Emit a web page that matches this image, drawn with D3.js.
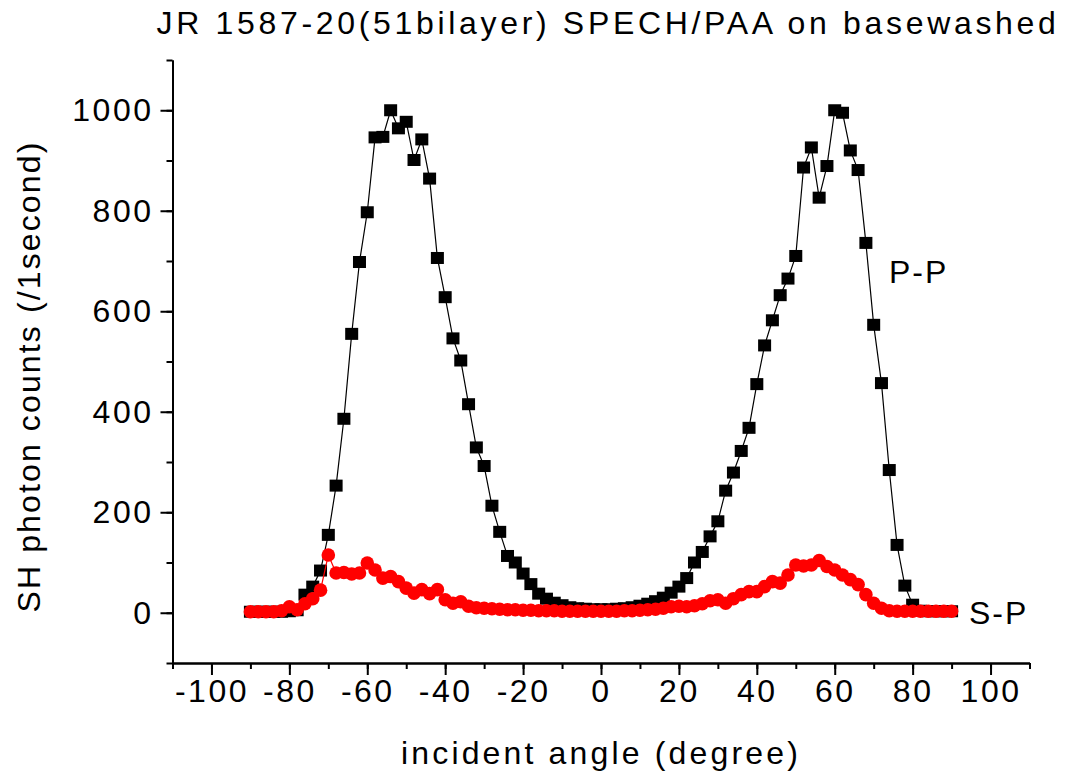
<!DOCTYPE html>
<html>
<head>
<meta charset="utf-8">
<script src="https://cdn.jsdelivr.net/npm/d3@7"></script>
<style>
  body { margin: 0; background: #fff; }
  svg { display: block; }
  text { font-family: "Liberation Sans", Arial, sans-serif; fill: #000; }
</style>
</head>
<body>
<div id="chart"></div>
<script>
// incident angle (degree), one scan every 2 degrees
var angles = [-90, -88, -86, -84, -82, -80, -78, -76, -74, -72,
  -70, -68, -66, -64, -62, -60, -58, -56, -54, -52,
  -50, -48, -46, -44, -42, -40, -38, -36, -34, -32,
  -30, -28, -26, -24, -22, -20, -18, -16, -14, -12,
  -10, -8, -6, -4, -2, 0, 2, 4, 6, 8,
  10, 12, 14, 16, 18, 20, 22, 24, 26, 28,
  30, 32, 34, 36, 38, 40, 42, 44, 46, 48,
  50, 52, 54, 56, 58, 60, 62, 64, 66, 68,
  70, 72, 74, 76, 78, 80, 82, 84, 86, 88, 90];

// P-P counts (black squares)
var ppCounts = [2, 2, 2, 2, 2, 3, 5, 36, 52, 84,
  155, 253, 386, 555, 698, 797, 946, 947, 1000, 964,
  977, 901, 942, 864, 706, 628, 546, 502, 415, 329,
  292, 213, 161, 113, 100, 78, 57, 38, 28, 20,
  15, 11, 9, 8, 7, 7, 7, 8, 9, 11,
  14, 18, 23, 30, 40, 52, 69, 100, 121, 152,
  182, 243, 279, 322, 368, 455, 532, 582, 632, 665,
  710, 886, 926, 826, 889, 1000, 995, 920, 881, 736,
  573, 457, 284, 135, 54, 16, 4, 3, 3, 3, 3];

// S-P counts (red circles)
var spCounts = [2, 2, 2, 2, 4, 12, 6, 18, 28, 45,
  115, 79, 80, 77, 79, 99, 85, 69, 72, 62,
  49, 39, 46, 38, 46, 26, 19, 22, 13, 10,
  9, 8, 7, 6, 6, 5, 5, 4, 4, 4,
  3, 3, 3, 3, 3, 3, 3, 3, 4, 4,
  5, 6, 7, 9, 12, 13, 12, 14, 18, 24,
  26, 19, 28, 36, 42, 42, 52, 62, 59, 75,
  95, 93, 95, 104, 92, 85, 75, 66, 56, 36,
  19, 9, 4, 3, 3, 3, 3, 3, 3, 3, 3];

var xMajor = [-100, -80, -60, -40, -20, 0, 20, 40, 60, 80, 100];
var yMajor = [0, 200, 400, 600, 800, 1000];

var w = 1075, h = 774;

var svg = d3.select("#chart").append("svg")
  .attr("width", w)
  .attr("height", h);

var x = d3.scaleLinear().domain([-110, 110]).range([172.5, 1029.5]);
var y = d3.scaleLinear().domain([-100, 1100]).range([663, 60]);

var ppData = angles.map(function(a, i) { return { a: a, v: ppCounts[i] }; });
var spData = angles.map(function(a, i) { return { a: a, v: spCounts[i] }; });

// plain hyphen for negatives, like the original
var plain = function(d) { return String(d); };

// axes: minor ticks first, then labelled majors
var xMinor = svg.append("g")
  .attr("transform", "translate(0," + y(-100) + ")")
  .call(d3.axisBottom(x).tickValues(d3.range(-110, 111, 10)).tickSize(6).tickSizeOuter(0).tickFormat(""));
var xAxis = svg.append("g")
  .attr("transform", "translate(0," + y(-100) + ")")
  .call(d3.axisBottom(x).tickValues(xMajor).tickSize(12).tickSizeOuter(0).tickPadding(4).tickFormat(plain));

var yMinor = svg.append("g")
  .attr("transform", "translate(" + x(-110) + ",0)")
  .call(d3.axisLeft(y).tickValues(d3.range(-100, 1101, 100)).tickSize(6).tickSizeOuter(0).tickFormat(""));
var yAxis = svg.append("g")
  .attr("transform", "translate(" + x(-110) + ",0)")
  .call(d3.axisLeft(y).tickValues(yMajor).tickSize(12).tickSizeOuter(0).tickPadding(7).tickFormat(plain));

[xMinor, xAxis, yMinor, yAxis].forEach(function(g) {
  g.selectAll(".domain").attr("stroke-width", 2);
  g.selectAll(".tick line").attr("stroke-width", 2);
  g.selectAll("text")
    .style("font-size", "32px")
    .style("letter-spacing", "2.5px")
    .style("font-family", "'Liberation Sans', Arial, sans-serif");
});

// P-P series
var line = d3.line()
  .x(function(d) { return x(d.a); })
  .y(function(d) { return y(d.v); });

svg.append("path")
  .datum(ppData)
  .attr("fill", "none")
  .attr("stroke", "#000")
  .attr("stroke-width", 1.2)
  .attr("d", line);

svg.selectAll(".pp")
    .data(ppData)
  .enter().append("rect")
    .attr("class", "pp")
    .attr("x", function(d) { return x(d.a) - 6.5; })
    .attr("y", function(d) { return y(d.v) - 6; })
    .attr("width", 13)
    .attr("height", 12)
    .attr("fill", "#000");

// S-P series
svg.append("path")
  .datum(spData)
  .attr("fill", "none")
  .attr("stroke", "#ff0000")
  .attr("stroke-width", 1.2)
  .attr("d", line);

svg.selectAll(".sp")
    .data(spData)
  .enter().append("circle")
    .attr("class", "sp")
    .attr("cx", function(d) { return x(d.a); })
    .attr("cy", function(d) { return y(d.v); })
    .attr("r", 6.8)
    .attr("fill", "#ff0000");

// series labels
svg.append("text")
  .attr("x", 889).attr("y", y(680))
  .attr("dy", "0.36em")
  .style("font-size", "32px")
  .style("letter-spacing", "2px")
  .text("P-P");

svg.append("text")
  .attr("x", 969).attr("y", y(0))
  .attr("dy", "0.36em")
  .style("font-size", "32px")
  .style("letter-spacing", "2px")
  .text("S-P");

// fit a label to the width it has in the picture
function fitText(t, target) {
  var len = t.node().getComputedTextLength();
  var n = t.text().length;
  t.style("letter-spacing", ((target - len) / n) + "px");
}

var title = svg.append("text")
  .attr("x", 608).attr("y", 34)
  .attr("text-anchor", "middle")
  .style("font-size", "32px")
  .text("JR 1587-20(51bilayer) SPECH/PAA on basewashed");
fitText(title, 903);

var xLabel = svg.append("text")
  .attr("x", 601).attr("y", 764)
  .attr("text-anchor", "middle")
  .style("font-size", "32px")
  .text("incident angle (degree)");
fitText(xLabel, 400);

var yLabel = svg.append("text")
  .attr("transform", "translate(40," + y(470) + ") rotate(-90)")
  .attr("text-anchor", "middle")
  .style("font-size", "32px")
  .text("SH photon counts (/1second)");
fitText(yLabel, 472);
</script>
</body>
</html>
